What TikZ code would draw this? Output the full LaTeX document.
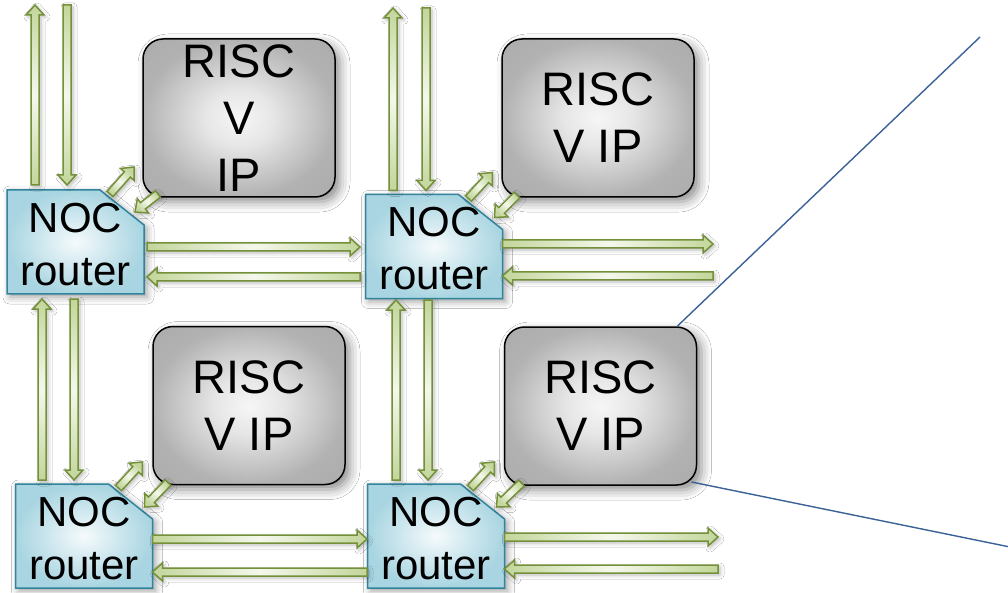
\documentclass[tikz,border=0pt]{standalone}
\usepackage{fontspec}
\setmainfont{Liberation Sans}
\usetikzlibrary{calc,shadows.blur}
\definecolor{arrowedge}{HTML}{74903A}
\definecolor{arrowfill}{HTML}{C3D69B}
\definecolor{arrowmid}{HTML}{F4F8EC}
\definecolor{routeredge}{HTML}{31849B}
\definecolor{routerfill}{HTML}{A8D5E1}
\definecolor{routermid}{HTML}{F5FAFC}
\definecolor{boxedge}{HTML}{A4A4A4}
\definecolor{boxring}{HTML}{B2B2B2}
\definecolor{boxsoft}{HTML}{E6E6E6}
\definecolor{boxmid}{HTML}{F6F6F6}
\definecolor{zoomline}{HTML}{3A6296}

\pgfdeclareradialshading{riscshade}{\pgfpoint{0bp}{0bp}}{%
  color(0bp)=(boxmid); color(9bp)=(boxsoft); color(25bp)=(boxring); color(50bp)=(boxedge)}

\newcommand\blockarrow[3][]{%
  \coordinate (ba-s) at #2;
  \coordinate (ba-e) at #3;
  \coordinate (ba-h) at ($(ba-e)!10pt!(ba-s)$);
  \path[arrowbody,#1] ($(ba-s)!4pt!90:(ba-e)$) -- ($(ba-h)!4pt!90:(ba-e)$)
    -- ($(ba-h)!9pt!90:(ba-e)$) -- (ba-e) -- ($(ba-h)!9pt!-90:(ba-e)$)
    -- ($(ba-h)!4pt!-90:(ba-e)$) -- ($(ba-s)!4pt!-90:(ba-e)$) -- cycle;
}
\newcommand\router[2]{%
  \path[routershape] ($#2+(-68.5,52)$) -- ($#2+(-68.5,-52)$) -- ($#2+(24.5,-52)$)
    -- ($#2+(68.5,-17)$) -- ($#2+(68.5,52)$) -- cycle;
  \node[routerframe] (#1) at #2 {};
  \node[routertext] (#1-label) at ($#2+(0,2.5)$) {NOC\\router};
}

\tikzset{
  arrowbody/.style={draw=arrowedge, line width=1.5pt, line join=miter,
    blur shadow={shadow xshift=2pt, shadow yshift=-2pt, shadow blur radius=4pt, shadow opacity=28}},
  hs/.style={left color=arrowfill, right color=arrowfill, middle color=arrowmid},
  vs/.style={top color=arrowfill, bottom color=arrowfill, middle color=arrowmid},
  ds/.style={top color=arrowfill, bottom color=arrowfill, middle color=arrowmid, shading angle=-45},
  routershape/.style={draw=routeredge, line width=1.5pt, inner color=routermid, outer color=routerfill,
    blur shadow={shadow xshift=3pt, shadow yshift=-3pt, shadow blur radius=7pt, shadow opacity=38}},
  routerframe/.style={minimum width=137pt, minimum height=104pt, inner sep=0pt, outer sep=0pt},
  routertext/.style={inner sep=0pt, outer sep=0pt, align=center, font=\fontsize{42}{53}\selectfont},
  riscbox/.style={draw=black, line width=1.5pt, rounded corners=20pt, shading=riscshade,
    minimum width=192pt, minimum height=158pt, inner sep=0pt, outer sep=0pt, align=center,
    font=\fontsize{47}{57}\selectfont,
    blur shadow={shadow xshift=5pt, shadow yshift=-5pt, shadow blur radius=10pt, shadow opacity=45}},
  zoomconn/.style={draw=zoomline, line width=1.4pt}
}

\begin{document}
\begin{tikzpicture}[x=1pt, y=-1pt]
\useasboundingbox[fill=white] (0,0) rectangle (1008,593);

% RISC-V IP blocks
\node[riscbox] (B1) at (239,118) {RISC\\V\\IP};
\node[riscbox] (B2) at (598,118) {RISC\\V IP};
\node[riscbox] (B3) at (249,405.5) {RISC\\V IP};
\node[riscbox] (B4) at (600.5,406) {RISC\\V IP};

% NOC routers
\router{R1}{(75.5,242)}
\router{R2}{(434,246.5)}
\router{R3}{(84,536)}
\router{R4}{(436,536)}

% free ends
\coordinate (up1) at (35,5);
\coordinate (dn1) at (67,5);
\coordinate (up2) at (393,8);
\coordinate (dn2) at (426,8);
\coordinate (o1) at (713,244);
\coordinate (o2) at (713,276);
\coordinate (o3) at (718,537);
\coordinate (o4) at (718,569);
\coordinate (z1) at (980,37);
\coordinate (z2) at (1010,547);

% vertical links at the top
\blockarrow[vs]{($(R1.north west)+(28,-5)$)}{(up1)}
\blockarrow[vs]{(dn1)}{($(R1.north west)+(60,-5)$)}
\blockarrow[vs]{($(R2.north west)+(27.5,-4)$)}{(up2)}
\blockarrow[vs]{(dn2)}{($(R2.north west)+(60.5,-4)$)}

% vertical links between rows
\blockarrow[vs]{($(R3.north west)+(26.5,-4)$)}{($(R1.south west)+(35,5)$)}
\blockarrow[vs]{($(R1.south west)+(67,5)$)}{($(R3.north west)+(58.5,-4)$)}
\blockarrow[vs]{($(R4.north west)+(28.5,-4)$)}{($(R2.south west)+(30.5,1.5)$)}
\blockarrow[vs]{($(R2.south west)+(62.5,1.5)$)}{($(R4.north west)+(60.5,-4)$)}

% horizontal links
\blockarrow[hs]{($(R1.north east)+(3,57)$)}{($(R2.north west)+(-5.5,52.5)$)}
\blockarrow[hs]{($(R2.north west)+(-5.5,82.5)$)}{($(R1.north east)+(3,87)$)}
\blockarrow[hs]{($(R2.north east)+(0,49.5)$)}{(o1)}
\blockarrow[hs]{(o2)}{($(R2.north east)+(0,81.5)$)}
\blockarrow[hs]{($(R3.north east)+(0,55)$)}{($(R4.north west)+(-0.5,55)$)}
\blockarrow[hs]{($(R4.north west)+(-0.5,88)$)}{($(R3.north east)+(0,88)$)}
\blockarrow[hs]{($(R4.north east)+(0,53)$)}{(o3)}
\blockarrow[hs]{(o4)}{($(R4.north east)+(0,85)$)}

% router <-> IP links
\blockarrow[ds]{($(R1.north east)+(-34,4)$)}{($(R1.north east)+(-10,-23)$)}
\blockarrow[ds]{($(B1.south west)+(15,-3)$)}{($(R1.north east)+(-9,22)$)}
\blockarrow[ds]{($(R2.north east)+(-34,4)$)}{($(R2.north east)+(-10,-22)$)}
\blockarrow[ds]{($(B2.south west)+(15,-2)$)}{($(R2.north east)+(-8,23)$)}
\blockarrow[ds]{($(R3.north east)+(-34,4)$)}{($(R3.north east)+(-10,-22)$)}
\blockarrow[ds]{($(B3.south west)+(15,-2)$)}{($(R3.north east)+(-8,23)$)}
\blockarrow[ds]{($(R4.north east)+(-34,4)$)}{($(R4.north east)+(-10,-22)$)}
\blockarrow[ds]{($(B4.south west)+(17,-2)$)}{($(R4.north east)+(-8,23)$)}

% zoom lines
\draw[zoomconn] ($(B4.north east)+(-19,-1)$) -- (z1);
\draw[zoomconn] ($(B4.south east)+(-5,-3)$) -- (z2);
\end{tikzpicture}
\end{document}
